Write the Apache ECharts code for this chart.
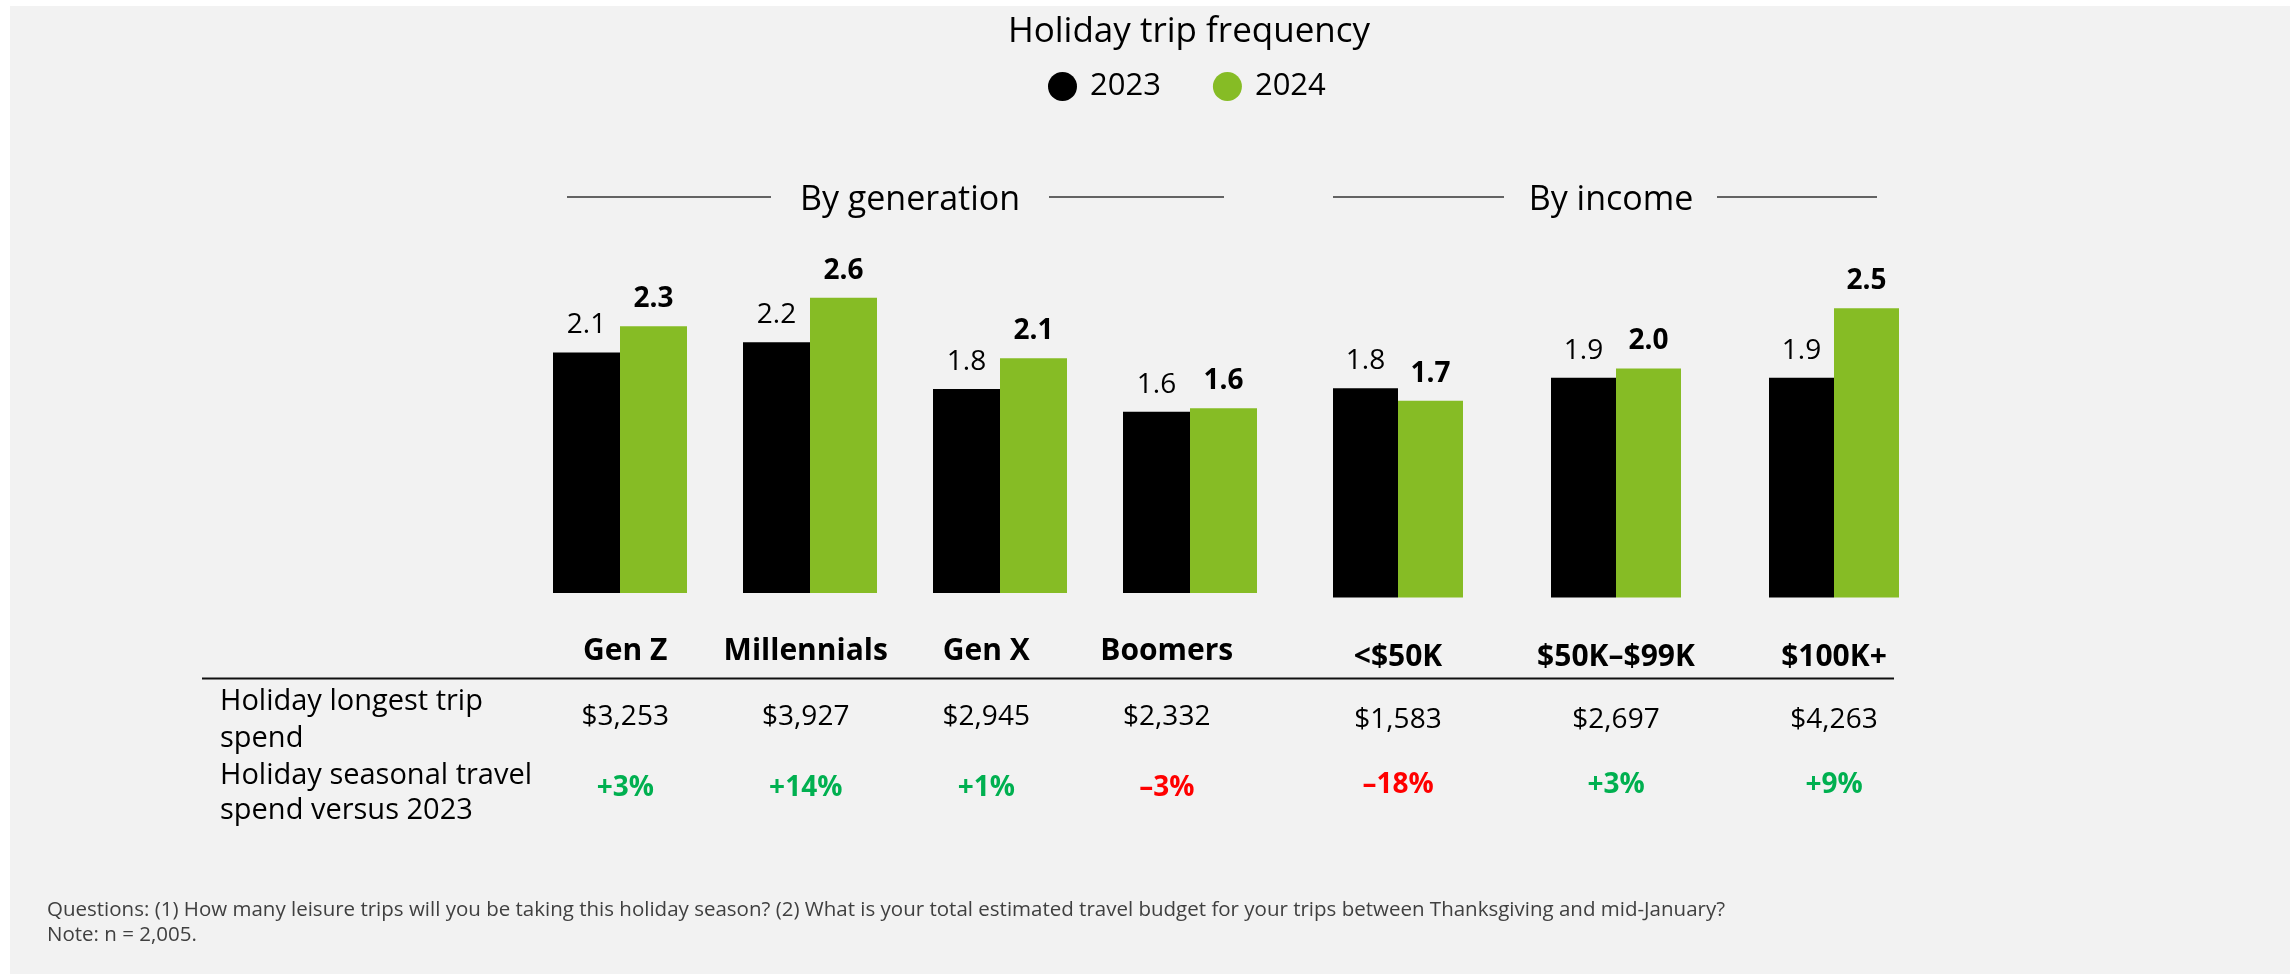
<!DOCTYPE html>
<html>
<head>
<meta charset="utf-8">
<script src="https://cdn.jsdelivr.net/npm/echarts@6/dist/echarts.min.js"></script>
<style>
html,body{margin:0;padding:0;background:#ffffff;}
#bg{position:absolute;left:10px;top:6px;width:2280px;height:968px;background:#f2f2f2;}
#chart{position:absolute;left:0;top:0;width:2290px;height:977px;}
</style>
</head>
<body>
<div id="bg"></div>
<div id="chart"></div>
<script>
const titleText = 'Holiday trip frequency';
const seriesNames = ['2023', '2024'];
const genCategories = ['Gen Z', 'Millennials', 'Gen X', 'Boomers'];
const incomeCategories = ['<$50K', '$50K–$99K', '$100K+'];
const gen2023 = [2.11, 2.20, 1.79, 1.59];
const gen2024 = [2.34, 2.59, 2.06, 1.62];
const income2023 = [1.81, 1.90, 1.90];
const income2024 = [1.70, 1.98, 2.50];
const genSpend = ['$3,253', '$3,927', '$2,945', '$2,332'];
const genChange = ['+3%', '+14%', '+1%', '–3%'];
const incomeSpend = ['$1,583', '$2,697', '$4,263'];
const incomeChange = ['–18%', '+3%', '+9%'];
const rowLabels = ['Holiday longest trip\nspend', 'Holiday seasonal travel\nspend versus 2023'];
const sectionLabels = ['By generation', 'By income'];
const footnote = 'Questions: (1) How many leisure trips will you be taking this holiday season? (2) What is your total estimated travel budget for your trips between Thanksgiving and mid-January?\nNote: n = 2,005.';

const FONT = "'Open Sans', 'Noto Sans', sans-serif";
const BLACK = '#000000';
const GREEN = '#86bc25';
const POS = '#00b050';
const NEG = '#ff0000';

const chart = echarts.init(document.getElementById('chart'), null, {renderer: 'canvas'});

function barLabel(bold) {
  return {
    show: true, position: 'top', distance: 13,
    fontFamily: FONT, fontSize: 28, lineHeight: 28,
    fontWeight: bold ? 'bold' : 'normal', color: '#000',
    formatter: p => Number(p.value).toFixed(1)
  };
}

const option = {
  backgroundColor: 'transparent',
  animation: false,
  textStyle: {fontFamily: FONT},
  title: {
    text: titleText, left: 1184, top: 10, textAlign: 'center',
    textStyle: {fontFamily: FONT, fontSize: 35, fontWeight: 'normal', color: '#000'}
  },
  legend: {
    data: seriesNames, left: 1043, top: 66, icon: 'circle',
    itemWidth: 29, itemHeight: 29, itemGap: 52,
    textStyle: {fontFamily: FONT, fontSize: 31, color: '#000', padding: [0, 0, 0, 8]}
  },
  grid: [
    {left: 525, width: 760, top: 251, height: 342},
    {left: 1289, width: 654, top: 250.5, height: 347},
    {left: 535, width: 722, top: 620, height: 10, show: false}
  ],
  xAxis: [
    {gridIndex: 0, type: 'category', data: genCategories, axisLine: {show: false}, axisTick: {show: false}, axisLabel: {show: false}},
    {gridIndex: 1, type: 'category', data: incomeCategories, axisLine: {show: false}, axisTick: {show: false}, axisLabel: {show: false}},
    {gridIndex: 2, type: 'category', data: genCategories, show: false}
  ],
  yAxis: [
    {gridIndex: 0, type: 'value', min: 0, max: 3, show: false, splitLine: {show: false}},
    {gridIndex: 1, type: 'value', min: 0, max: 3, show: false, splitLine: {show: false}},
    {gridIndex: 2, type: 'value', min: 0, max: 1, show: false, splitLine: {show: false}}
  ],
  series: [
    {name: seriesNames[0], type: 'bar', xAxisIndex: 0, yAxisIndex: 0, data: gen2023, barWidth: 67, barGap: '0%', itemStyle: {color: BLACK}, label: barLabel(false)},
    {name: seriesNames[1], type: 'bar', xAxisIndex: 0, yAxisIndex: 0, data: gen2024, barWidth: 67, barGap: '0%', itemStyle: {color: GREEN}, label: barLabel(true)},
    {name: seriesNames[0], type: 'bar', xAxisIndex: 1, yAxisIndex: 1, data: income2023, barWidth: 65, barGap: '0%', itemStyle: {color: BLACK}, label: barLabel(false)},
    {name: seriesNames[1], type: 'bar', xAxisIndex: 1, yAxisIndex: 1, data: income2024, barWidth: 65, barGap: '0%', itemStyle: {color: GREEN}, label: barLabel(true)}
  ]
};
chart.setOption(option);

function txt(x, y, text, o) {
  o = o || {};
  return {
    type: 'text', x: x, y: y, z: 10,
    style: {
      text: text, fill: o.fill || '#000', fontFamily: FONT,
      fontSize: o.fontSize || 28, fontWeight: o.fontWeight || 'normal',
      lineHeight: o.lineHeight,
      align: o.align || 'center', textAlign: o.align || 'center',
      verticalAlign: o.va || 'middle', textVerticalAlign: o.va || 'middle'
    }
  };
}
function hline(x1, x2, y, w, c) {
  return {type: 'line', z: 10, shape: {x1: x1, y1: y, x2: x2, y2: y}, style: {stroke: c, lineWidth: w}};
}

const g = [];
// section headers
g.push(txt(910, 200, sectionLabels[0], {fontSize: 34}));
g.push(txt(1611, 200, sectionLabels[1], {fontSize: 34}));
g.push(hline(567, 771, 197, 1.5, '#333'));
g.push(hline(1049, 1224, 197, 1.5, '#333'));
g.push(hline(1333, 1504, 197, 1.5, '#333'));
g.push(hline(1717, 1877, 197, 1.5, '#333'));

// table
genCategories.forEach((c, i) => {
  const x = chart.convertToPixel({xAxisIndex: 2}, c);
  g.push(txt(x, 651, c, {fontSize: 30, fontWeight: 'bold'}));
  g.push(txt(x, 717, genSpend[i], {fontSize: 28}));
  g.push(txt(x, 788, genChange[i], {fontSize: 28, fontWeight: 'bold', fill: genChange[i].charAt(0) === '+' ? POS : NEG}));
});
incomeCategories.forEach((c, i) => {
  const x = chart.convertToPixel({xAxisIndex: 1}, c);
  g.push(txt(x, 657, c, {fontSize: 30, fontWeight: 'bold'}));
  g.push(txt(x, 720, incomeSpend[i], {fontSize: 28}));
  g.push(txt(x, 785, incomeChange[i], {fontSize: 28, fontWeight: 'bold', fill: incomeChange[i].charAt(0) === '+' ? POS : NEG}));
});
g.push(hline(202, 1894, 678.5, 2, '#111'));
g.push(txt(220, 683, rowLabels[0], {fontSize: 29, lineHeight: 37, align: 'left', va: 'top'}));
g.push(txt(220, 758, rowLabels[1], {fontSize: 29, lineHeight: 35, align: 'left', va: 'top'}));

// footnote
g.push(txt(47, 898, footnote, {fontSize: 20.5, lineHeight: 25, align: 'left', va: 'top', fill: '#404040'}));

chart.setOption({graphic: g});
</script>
</body>
</html>
